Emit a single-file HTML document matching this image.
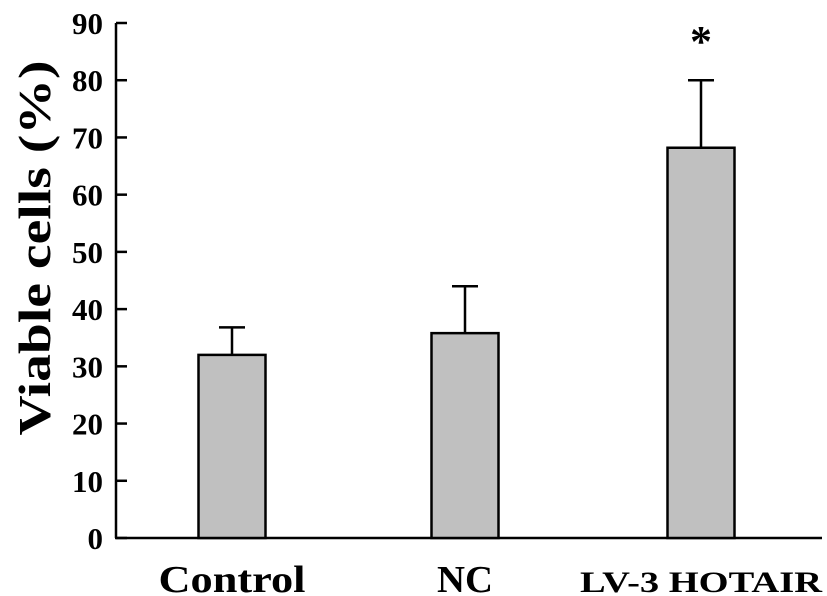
<!DOCTYPE html>
<html><head><meta charset="utf-8"><style>
html,body{margin:0;padding:0;background:#fff;}
svg{display:block;font-family:"Liberation Serif",serif;font-weight:bold;}
</style></head><body>
<svg id="chart" width="827" height="596" viewBox="0 0 827 596" xmlns="http://www.w3.org/2000/svg">
<text transform="translate(50,248) rotate(-90)" text-anchor="middle" font-size="46" textLength="375" lengthAdjust="spacingAndGlyphs">Viable  cells (%)</text>
<g id="axes"></g><g id="bars"></g>
</svg>
<script>
const categories=["Control","NC","LV-3 HOTAIR"];
const values=[32,35.8,68.2];
const errors=[4.8,8.2,11.8];
const yTicks=[0,10,20,30,40,50,60,70,80,90];
const NS="http://www.w3.org/2000/svg";
const x0=116,x1=822,yB=538,yT=23,yMax=90;
const y=v=>yB-(yB-yT)*v/yMax;
const centers=[232,465,701], bw=67, labelSizes=[38,38,30], labelLens=[147,56,242];
function el(t,a,p){const e=document.createElementNS(NS,t);for(const k in a)e.setAttribute(k,a[k]);p.appendChild(e);return e;}
const ax=document.getElementById('axes'), bg=document.getElementById('bars');
const yl=el('line',{x1:x0,y1:yT,x2:x0,y2:yB,stroke:'#000','stroke-width':2.5},ax);


const xl=el('line',{x1:x0-1,y1:yB,x2:x1,y2:yB,stroke:'#000','stroke-width':2.5},ax);


yTicks.forEach(t=>{
  const tk=el('line',{x1:x0,y1:y(t),x2:x0+11,y2:y(t),stroke:'#000','stroke-width':2.5},ax);
  
  
  const tl=el('text',{x:103,y:y(t)+11,'text-anchor':'end','font-size':31},ax);
  tl.textContent=t;
  
  
});
categories.forEach((c,i)=>{
  const cx=centers[i];
  const e=el('path',{d:`M${cx} ${y(values[i])}V${y(values[i]+errors[i])}M${cx-13} ${y(values[i]+errors[i])}H${cx+13}`,stroke:'#000','stroke-width':2.5,fill:'none'},bg);
  
  
  const r=el('rect',{x:cx-bw/2,y:y(values[i]),width:bw,height:yB-y(values[i]),fill:'#c0c0c0',stroke:'#000','stroke-width':2.5},bg);
  
  
  const l=el('text',{x:cx,y:592,'text-anchor':'middle','font-size':labelSizes[i],textLength:labelLens[i],lengthAdjust:'spacingAndGlyphs'},bg);
  l.textContent=c;
  
  
});
const s=el('text',{x:centers[2],y:y(values[2]+errors[2])-24,'text-anchor':'middle','font-size':44},bg);
s.textContent='*';


</script>
</body></html>
